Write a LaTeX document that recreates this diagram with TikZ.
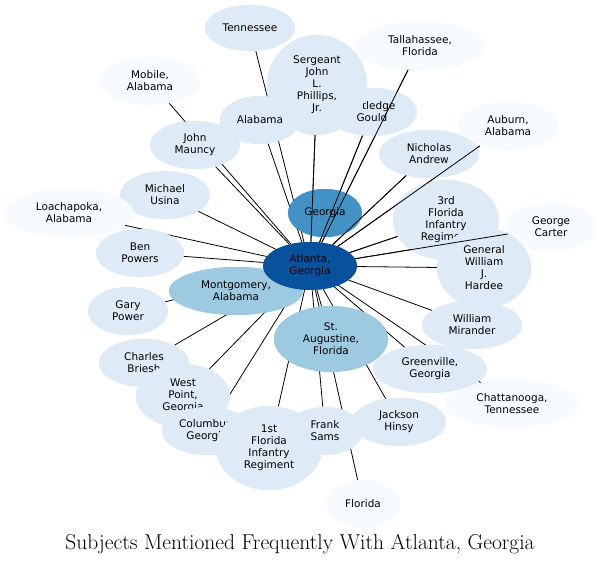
\documentclass[tikz,border=0pt]{standalone}
\usepackage{fontspec}
\setmainfont{DejaVu Sans}
\usetikzlibrary{shapes.geometric}
\definecolor{cA}{HTML}{F7FBFF}
\definecolor{cB}{HTML}{DEEBF7}
\definecolor{cC}{HTML}{9ECAE1}
\definecolor{cD}{HTML}{4292C6}
\definecolor{cE}{HTML}{08519C}
\tikzset{nd/.style={ellipse,inner sep=0pt,align=center,font=\fontsize{10.5}{12}\selectfont},
 edge/.style={draw=black,line width=0.8pt}}
\newcommand{\nd}[6]{\node[nd,fill=#6,minimum width=#4pt,minimum height=#5pt] (#1) at (#2) {#3};}
\begin{document}
\begin{tikzpicture}[x=1pt,y=-1pt]
\useasboundingbox[fill=white] (0,0) rectangle (602,565);
\begin{scope}[nd/.append style={fill=none,text opacity=0}]
\nd{ten}{250,28}{}{90}{46}{cB}
\nd{tal}{420,46}{}{130}{48}{cA}
\nd{gou}{372,112}{}{90}{48}{cB}
\nd{ser}{317,85}{}{100}{100}{cB}
\nd{mob}{150,81}{}{100}{48}{cA}
\nd{ala}{260,120}{}{80}{48}{cB}
\nd{aub}{508,126}{}{100}{48}{cA}
\nd{mau}{195,145}{}{90}{48}{cB}
\nd{nic}{429,154}{}{100}{48}{cB}
\nd{usi}{165,195}{}{90}{48}{cB}
\nd{inf}{446,220}{}{106}{80}{cB}
\nd{geo}{325,213}{}{74}{48}{cD}
\nd{car}{551,227}{}{90}{48}{cA}
\nd{loa}{69,213}{}{130}{48}{cA}
\nd{ben}{140,253}{}{88}{48}{cB}
\nd{har}{484,268}{}{94}{80}{cB}
\nd{gar}{128,311}{}{80}{48}{cB}
\nd{mir}{472,325}{}{100}{48}{cB}
\nd{bri}{144,363}{}{90}{48}{cB}
\nd{wpt}{183,396}{}{94}{64}{cB}
\nd{chat}{512,404}{}{134}{48}{cA}
\nd{gre}{430,369}{}{114}{48}{cB}
\nd{jac}{399,422}{}{94}{48}{cB}
\nd{col}{207,431}{}{90}{48}{cB}
\nd{fir}{269,448}{}{106}{84}{cB}
\nd{sam}{325,431}{}{76}{48}{cB}
\nd{flo}{363,504}{}{74}{48}{cA}
\nd{mon}{236,291}{}{134}{48}{cC}
\nd{aug}{331,339}{}{114}{66}{cC}
\nd{atl}{310,266}{}{94}{48}{cE}
\end{scope}
\foreach \t in {ten,tal,gou,ser,mob,ala,aub,mau,nic,usi,inf,car,loa,ben,har,gar,mir,bri,wpt,chat,gre,jac,col,fir,sam,flo,mon,aug}
  \draw[edge] (atl) -- (\t);
\nd{ten2}{250,28}{Tennessee}{90}{46}{cB}
\nd{tal2}{420,46}{Tallahassee,\\Florida}{130}{48}{cA}
\nd{gou2}{372,112}{Rutledge\\Gould}{90}{48}{cB}
\nd{ser2}{317,85}{Sergeant\\John\\L.\\Phillips,\\Jr.}{100}{100}{cB}
\nd{mob2}{150,81}{Mobile,\\Alabama}{100}{48}{cA}
\nd{ala2}{260,120}{Alabama}{80}{48}{cB}
\nd{aub2}{508,126}{Auburn,\\Alabama}{100}{48}{cA}
\nd{mau2}{195,145}{John\\Mauncy}{90}{48}{cB}
\nd{nic2}{429,154}{Nicholas\\Andrew}{100}{48}{cB}
\nd{usi2}{165,195}{Michael\\Usina}{90}{48}{cB}
\nd{inf2}{446,220}{3rd\\Florida\\Infantry\\Regiment}{106}{80}{cB}
\nd{geo2}{325,213}{Georgia}{74}{48}{cD}
\nd{car2}{551,227}{George\\Carter}{90}{48}{cA}
\nd{loa2}{69,213}{Loachapoka,\\Alabama}{130}{48}{cA}
\nd{ben2}{140,253}{Ben\\Powers}{88}{48}{cB}
\nd{har2}{484,268}{General\\William\\J.\\Hardee}{94}{80}{cB}
\nd{gar2}{128,311}{Gary\\Power}{80}{48}{cB}
\nd{mir2}{472,325}{William\\Mirander}{100}{48}{cB}
\nd{bri2}{144,363}{Charles\\Briesh}{90}{48}{cB}
\nd{wpt2}{183,396}{West\\Point,\\Georgia}{94}{64}{cB}
\nd{chat2}{512,404}{Chattanooga,\\Tennessee}{134}{48}{cA}
\nd{gre2}{430,369}{Greenville,\\Georgia}{114}{48}{cB}
\nd{jac2}{399,422}{Jackson\\Hinsy}{94}{48}{cB}
\nd{col2}{207,431}{Columbus,\\Georgia}{90}{48}{cB}
\nd{fir2}{269,448}{1st\\Florida\\Infantry\\Regiment}{106}{84}{cB}
\nd{sam2}{325,431}{Frank\\Sams}{76}{48}{cB}
\nd{flo2}{363,504}{Florida}{74}{48}{cA}
\nd{mon2}{236,291}{Montgomery,\\Alabama}{134}{48}{cC}
\nd{aug2}{331,339}{St.\\Augustine,\\Florida}{114}{66}{cC}
\nd{atl2}{310,266}{Atlanta,\\Georgia}{94}{48}{cE}
\foreach \t in {ser,gou,tal,nic,car,inf,aub}
  \draw[edge] (atl) -- (\t);
\node[font=\fontspec{Latin Modern Roman}\fontsize{21.5}{24}\selectfont] (title) at (300,544) {Subjects Mentioned Frequently With Atlanta, Georgia};
\end{tikzpicture}
\end{document}
